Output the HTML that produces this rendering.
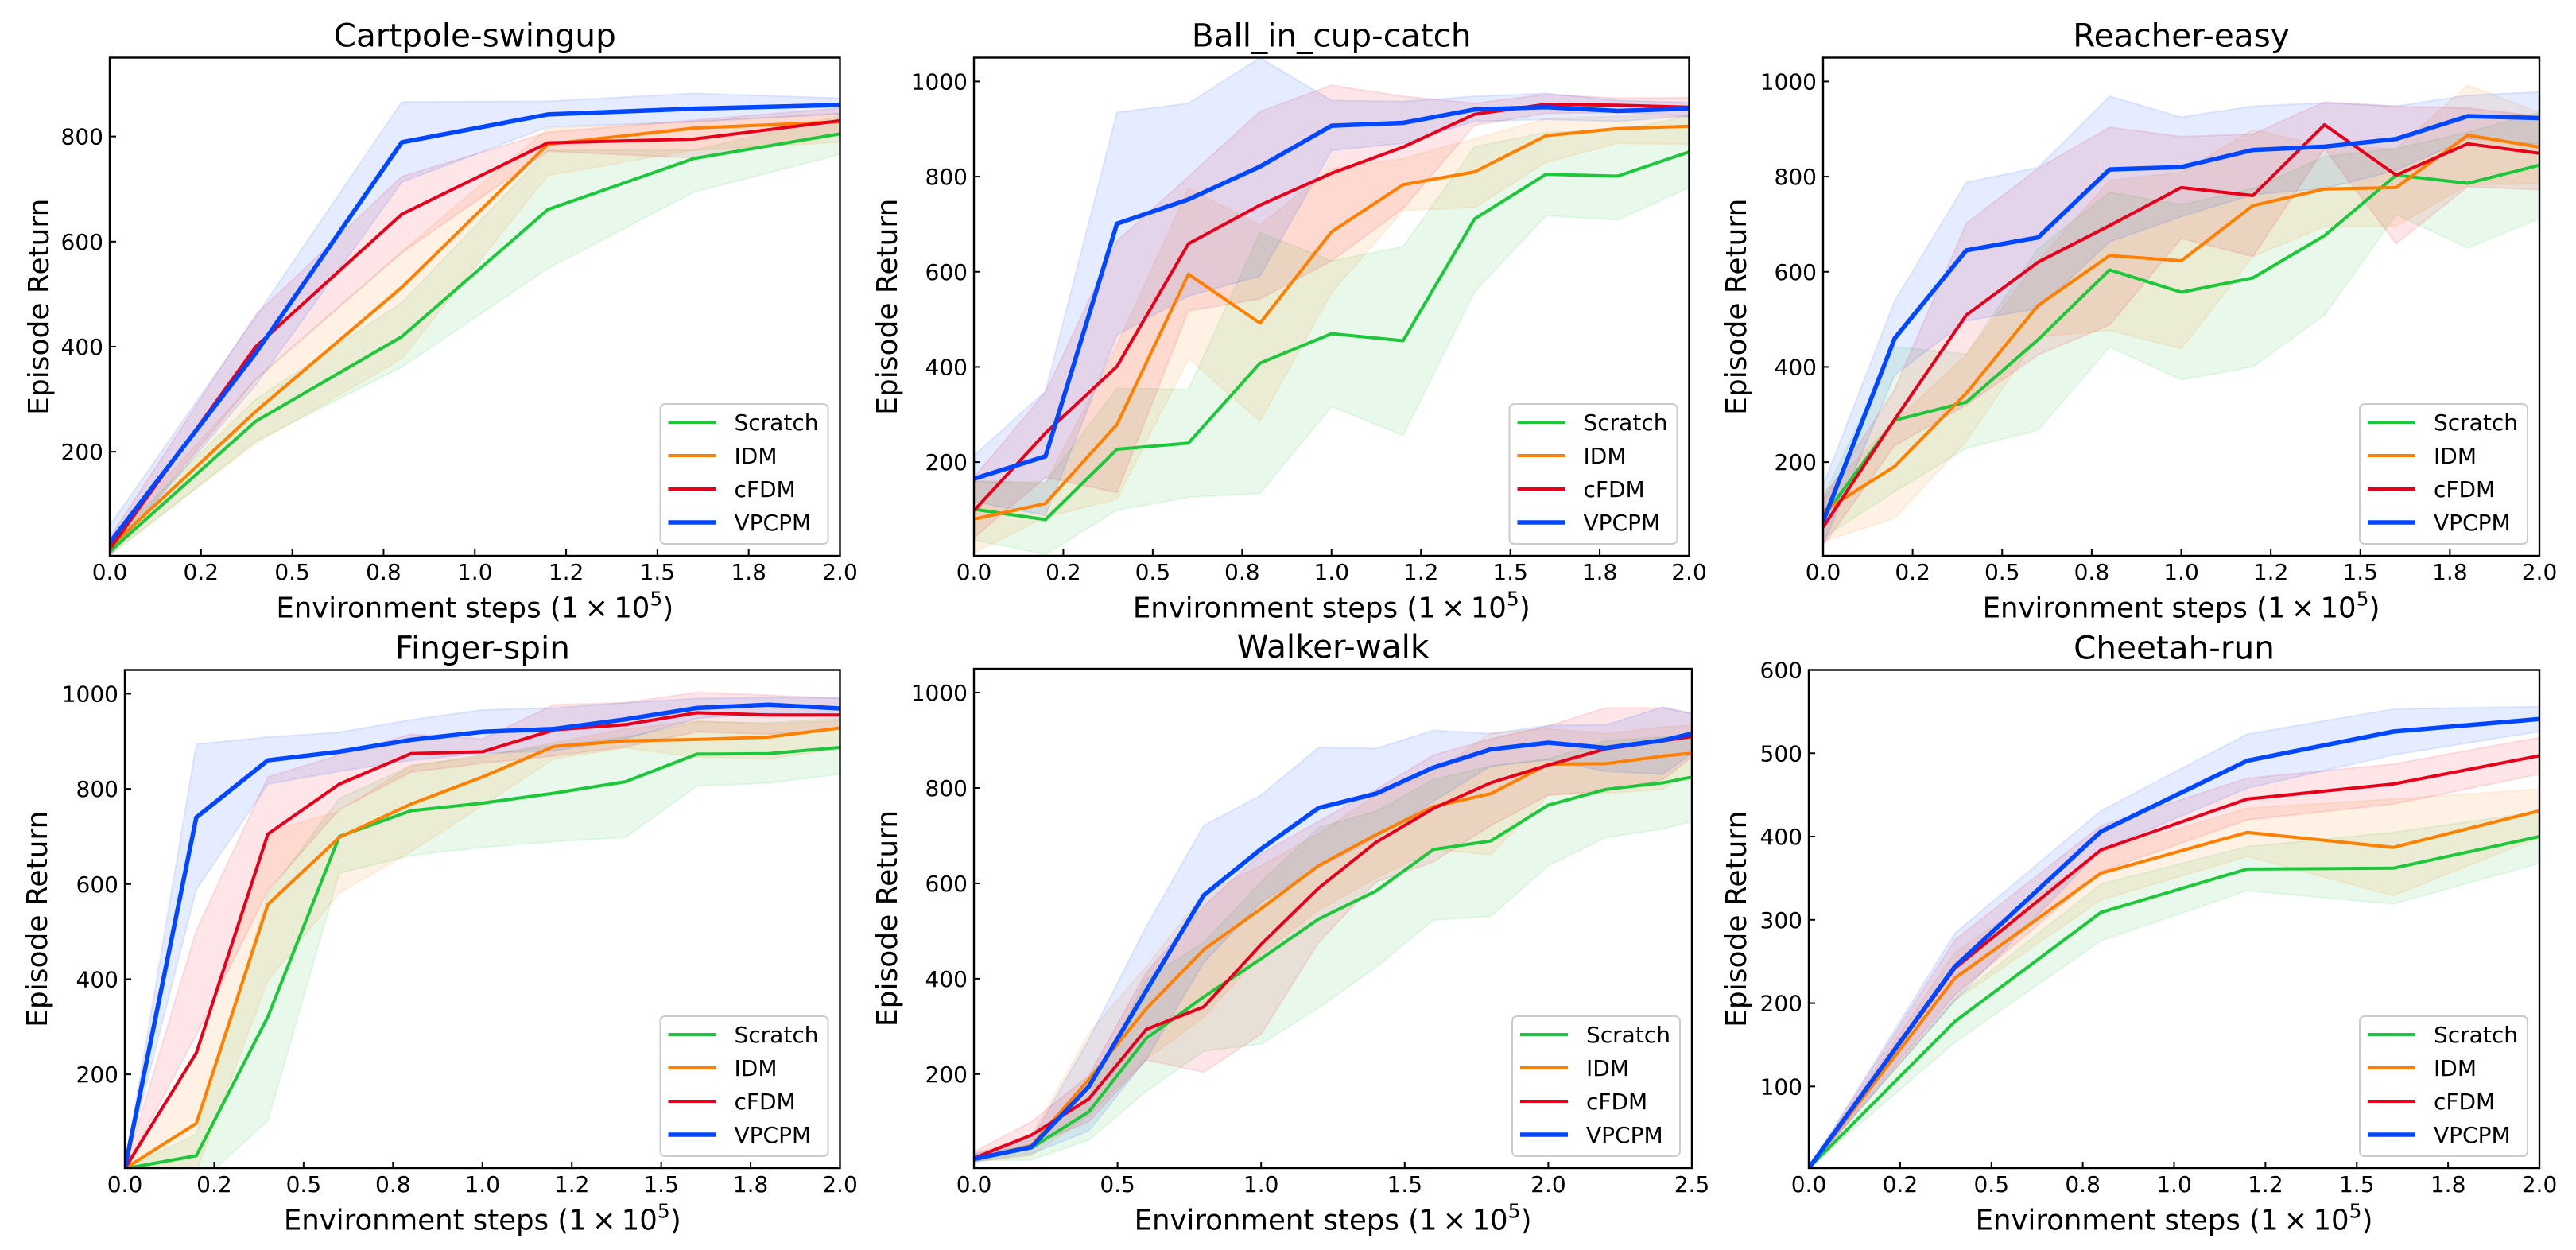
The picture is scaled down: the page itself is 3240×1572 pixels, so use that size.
<!DOCTYPE html>
<html lang="en">
<head>
<meta charset="utf-8">
<title>Episode Return learning curves</title>
<style>
html,body{margin:0;padding:0;background:#fff;}
body{width:3240px;height:1572px;overflow:hidden;}
svg{display:block;font-family:"DejaVu Sans","Liberation Sans",sans-serif;}
</style>
</head>
<body>
<svg id="figure" xmlns="http://www.w3.org/2000/svg" width="3240" height="1572" viewBox="0 0 3240 1572"></svg>
<script>
// ---------- shared axis data ----------
const stepTicks = [0, 0.25, 0.5, 0.75, 1, 1.25, 1.5, 1.75, 2];
const stepTickLabels = ['0.0', '0.2', '0.5', '0.8', '1.0', '1.2', '1.5', '1.8', '2.0'];
const walkerStepTicks = [0, 0.5, 1, 1.5, 2, 2.5];
const walkerStepTickLabels = ['0.0', '0.5', '1.0', '1.5', '2.0', '2.5'];
const returnTicks800 = [200, 400, 600, 800];
const returnTicks1000 = [200, 400, 600, 800, 1000];
const cheetahReturnTicks = [100, 200, 300, 400, 500, 600];
const seriesNames = ['Scratch', 'IDM', 'cFDM', 'VPCPM'];

// ---------- Cartpole-swingup ----------
const cartpoleSteps = [0, 0.4, 0.8, 1.2, 1.6, 2.0];
const cartpoleScratch = [10, 258, 419, 661, 758, 805];
const cartpoleScratchHi = [30, 300, 484, 774, 774, 839];
const cartpoleScratchLo = [2, 220, 361, 549, 694, 766];
const cartpoleIdm = [18, 277, 513, 785, 816, 828];
const cartpoleIdmHi = [33, 338, 581, 816, 828, 844];
const cartpoleIdmLo = [5, 216, 377, 726, 774, 789];
const cartpoleCfdm = [15, 400, 652, 788, 795, 830];
const cartpoleCfdmHi = [37, 461, 724, 808, 831, 854];
const cartpoleCfdmLo = [3, 338, 579, 772, 759, 805];
const cartpoleVpcpm = [27, 388, 789, 842, 853, 860];
const cartpoleVpcpmHi = [60, 457, 866, 867, 882, 873];
const cartpoleVpcpmLo = [2, 327, 713, 818, 828, 843];

// ---------- Ball_in_cup-catch ----------
const ballSteps = [0, 0.2, 0.4, 0.6, 0.8, 1.0, 1.2, 1.4, 1.6, 1.8, 2.0];
const ballScratch = [101, 79, 227, 240, 408, 470, 455, 711, 805, 801, 852];
const ballScratchHi = [160, 157, 355, 353, 682, 623, 653, 863, 893, 897, 927];
const ballScratchLo = [37, 6, 99, 126, 134, 317, 256, 558, 718, 709, 777];
const ballIdm = [80, 113, 279, 595, 492, 684, 783, 810, 886, 901, 906];
const ballIdmHi = [160, 155, 446, 775, 699, 817, 838, 880, 922, 927, 927];
const ballIdmLo = [9, 84, 122, 417, 286, 556, 729, 735, 830, 870, 868];
const ballCfdm = [98, 261, 401, 659, 740, 807, 862, 931, 952, 950, 946];
const ballCfdmHi = [168, 347, 665, 800, 937, 992, 969, 954, 973, 965, 966];
const ballCfdmLo = [41, 168, 136, 518, 543, 623, 733, 908, 933, 935, 927];
const ballVpcpm = [165, 212, 701, 752, 821, 907, 913, 941, 946, 938, 943];
const ballVpcpmHi = [214, 349, 935, 954, 1050, 960, 958, 969, 975, 960, 956];
const ballVpcpmLo = [117, 88, 467, 549, 591, 855, 870, 916, 920, 916, 927];

// ---------- Reacher-easy ----------
const reacherSteps = [0, 0.2, 0.4, 0.6, 0.8, 1.0, 1.2, 1.4, 1.6, 1.8, 2.0];
const reacherScratch = [84, 288, 326, 457, 604, 557, 587, 676, 803, 786, 824];
const reacherScratchHi = [126, 442, 427, 648, 767, 741, 775, 842, 859, 893, 935];
const reacherScratchLo = [41, 138, 229, 267, 442, 373, 400, 509, 720, 650, 712];
const reacherIdm = [96, 191, 345, 529, 634, 623, 739, 774, 777, 887, 862];
const reacherIdmHi = [134, 286, 425, 623, 792, 809, 899, 863, 859, 992, 935];
const reacherIdmLo = [33, 82, 244, 463, 477, 438, 632, 695, 696, 783, 785];
const reacherCfdm = [63, 290, 509, 620, 697, 777, 760, 909, 803, 869, 849];
const reacherCfdmHi = [122, 353, 702, 817, 904, 884, 889, 957, 948, 944, 927];
const reacherCfdmLo = [25, 235, 320, 425, 488, 670, 632, 859, 659, 779, 772];
const reacherVpcpm = [75, 460, 645, 672, 815, 820, 856, 863, 879, 927, 923];
const reacherVpcpmHi = [151, 539, 788, 819, 969, 925, 948, 955, 948, 971, 978];
const reacherVpcpmLo = [25, 383, 497, 522, 663, 716, 762, 775, 813, 880, 868];

// ---------- Finger-spin ----------
const fingerSteps = [0, 0.2, 0.4, 0.6, 0.8, 1.0, 1.2, 1.4, 1.6, 1.8, 2.0];
const fingerScratch = [2, 29, 321, 700, 754, 770, 791, 815, 873, 874, 887];
const fingerScratchHi = [2, 74, 579, 780, 848, 871, 891, 909, 941, 939, 948];
const fingerScratchLo = [2, -35, 103, 623, 660, 677, 689, 698, 806, 812, 831];
const fingerIdm = [2, 97, 557, 698, 768, 825, 889, 901, 904, 909, 928];
const fingerIdmHi = [2, 249, 710, 753, 850, 867, 897, 926, 943, 936, 943];
const fingerIdmLo = [2, -5, 397, 581, 668, 765, 863, 886, 867, 863, 884];
const fingerCfdm = [2, 245, 705, 810, 874, 878, 924, 935, 960, 955, 955];
const fingerCfdmHi = [2, 503, 825, 871, 915, 905, 977, 981, 1003, 997, 990];
const fingerCfdmLo = [2, 283, 586, 757, 835, 854, 869, 888, 920, 915, 926];
const fingerVpcpm = [2, 740, 860, 878, 903, 920, 926, 946, 970, 977, 969];
const fingerVpcpmHi = [2, 894, 909, 919, 945, 966, 970, 981, 990, 992, 992];
const fingerVpcpmLo = [2, 588, 810, 837, 860, 875, 880, 905, 948, 959, 952];

// ---------- Walker-walk ----------
const walkerSteps = [0, 0.2, 0.4, 0.6, 0.8, 1.0, 1.2, 1.4, 1.6, 1.8, 2.0, 2.2, 2.4, 2.5];
const walkerScratch = [22, 45, 121, 275, 362, 442, 525, 584, 671, 689, 764, 797, 811, 823];
const walkerScratchHi = [29, 54, 155, 400, 476, 603, 717, 751, 818, 846, 861, 899, 907, 911];
const walkerScratchLo = [20, 20, 62, 164, 248, 263, 339, 424, 523, 531, 637, 696, 714, 730];
const walkerIdm = [22, 50, 189, 337, 461, 547, 637, 702, 761, 788, 850, 851, 867, 873];
const walkerIdmHi = [33, 71, 286, 426, 578, 637, 704, 785, 831, 916, 924, 914, 928, 931];
const walkerIdmLo = [16, 29, 113, 231, 320, 451, 544, 611, 671, 660, 785, 789, 797, 835];
const walkerCfdm = [24, 72, 148, 294, 341, 472, 590, 686, 757, 811, 848, 882, 899, 908];
const walkerCfdmHi = [37, 100, 197, 413, 552, 662, 730, 797, 869, 903, 930, 968, 968, 956];
const walkerCfdmLo = [16, 50, 100, 230, 204, 284, 476, 603, 645, 721, 785, 793, 818, 865];
const walkerVpcpm = [22, 47, 174, 375, 575, 672, 758, 788, 843, 881, 895, 884, 900, 914];
const walkerVpcpmHi = [33, 62, 273, 510, 721, 785, 885, 883, 921, 914, 931, 932, 970, 956];
const walkerVpcpmLo = [16, 33, 81, 231, 434, 561, 633, 696, 772, 846, 859, 835, 829, 873];

// ---------- Cheetah-run ----------
const cheetahSteps = [0, 0.4, 0.8, 1.2, 1.6, 2.0];
const cheetahScratch = [2, 178, 309, 361, 362, 400];
const cheetahScratchHi = [2, 205, 343, 388, 405, 430];
const cheetahScratchLo = [2, 153, 275, 335, 319, 368];
const cheetahIdm = [2, 230, 356, 405, 387, 431];
const cheetahIdmHi = [2, 261, 382, 434, 445, 457];
const cheetahIdmLo = [2, 203, 324, 376, 329, 399];
const cheetahCfdm = [2, 242, 384, 445, 463, 497];
const cheetahCfdmHi = [2, 276, 413, 470, 487, 519];
const cheetahCfdmLo = [2, 210, 358, 420, 439, 475];
const cheetahVpcpm = [2, 244, 406, 491, 526, 541];
const cheetahVpcpmHi = [2, 284, 431, 523, 553, 556];
const cheetahVpcpmLo = [2, 203, 384, 458, 498, 526];

// ---------- layout and styling ----------
const seriesColors = ['#1cc83a', '#ff7f00', '#e8001a', '#0047ff'];
const seriesWidths = [4, 4, 4, 5.5];
const NS = 'http://www.w3.org/2000/svg';

const panels = [
  { slug: 'cartpole', title: 'Cartpole-swingup', left: 138, right: 1056.5, top: 72.5, bottom: 699, yMin: 2, yMax: 950, xMax: 2, labelGap: 77,
    xTicks: stepTicks, xLabels: stepTickLabels, yTicks: returnTicks800, steps: cartpoleSteps,
    mean: [cartpoleScratch, cartpoleIdm, cartpoleCfdm, cartpoleVpcpm],
    hi: [cartpoleScratchHi, cartpoleIdmHi, cartpoleCfdmHi, cartpoleVpcpmHi],
    lo: [cartpoleScratchLo, cartpoleIdmLo, cartpoleCfdmLo, cartpoleVpcpmLo] },
  { slug: 'ball-in-cup', title: 'Ball_in_cup-catch', left: 1225, right: 2124.5, top: 72.5, bottom: 699, yMin: 3, yMax: 1050, xMax: 2, labelGap: 97,
    xTicks: stepTicks, xLabels: stepTickLabels, yTicks: returnTicks1000, steps: ballSteps,
    mean: [ballScratch, ballIdm, ballCfdm, ballVpcpm],
    hi: [ballScratchHi, ballIdmHi, ballCfdmHi, ballVpcpmHi],
    lo: [ballScratchLo, ballIdmLo, ballCfdmLo, ballVpcpmLo] },
  { slug: 'reacher', title: 'Reacher-easy', left: 2293, right: 3194, top: 72.5, bottom: 699, yMin: 3, yMax: 1050, xMax: 2, labelGap: 97,
    xTicks: stepTicks, xLabels: stepTickLabels, yTicks: returnTicks1000, steps: reacherSteps,
    mean: [reacherScratch, reacherIdm, reacherCfdm, reacherVpcpm],
    hi: [reacherScratchHi, reacherIdmHi, reacherCfdmHi, reacherVpcpmHi],
    lo: [reacherScratchLo, reacherIdmLo, reacherCfdmLo, reacherVpcpmLo] },
  { slug: 'finger', title: 'Finger-spin', left: 157, right: 1056.5, top: 842.5, bottom: 1469, yMin: 3, yMax: 1050, xMax: 2, labelGap: 98,
    xTicks: stepTicks, xLabels: stepTickLabels, yTicks: returnTicks1000, steps: fingerSteps,
    mean: [fingerScratch, fingerIdm, fingerCfdm, fingerVpcpm],
    hi: [fingerScratchHi, fingerIdmHi, fingerCfdmHi, fingerVpcpmHi],
    lo: [fingerScratchLo, fingerIdmLo, fingerCfdmLo, fingerVpcpmLo] },
  { slug: 'walker', title: 'Walker-walk', left: 1225, right: 2128, top: 841, bottom: 1469, yMin: 3, yMax: 1050, xMax: 2.5, labelGap: 97,
    xTicks: walkerStepTicks, xLabels: walkerStepTickLabels, yTicks: returnTicks1000, steps: walkerSteps,
    mean: [walkerScratch, walkerIdm, walkerCfdm, walkerVpcpm],
    hi: [walkerScratchHi, walkerIdmHi, walkerCfdmHi, walkerVpcpmHi],
    lo: [walkerScratchLo, walkerIdmLo, walkerCfdmLo, walkerVpcpmLo] },
  { slug: 'cheetah', title: 'Cheetah-run', left: 2275, right: 3194, top: 842.5, bottom: 1469, yMin: 2, yMax: 600, xMax: 2, labelGap: 79,
    xTicks: stepTicks, xLabels: stepTickLabels, yTicks: cheetahReturnTicks, steps: cheetahSteps,
    mean: [cheetahScratch, cheetahIdm, cheetahCfdm, cheetahVpcpm],
    hi: [cheetahScratchHi, cheetahIdmHi, cheetahCfdmHi, cheetahVpcpmHi],
    lo: [cheetahScratchLo, cheetahIdmLo, cheetahCfdmLo, cheetahVpcpmLo] }
];

const figure = document.getElementById('figure');

function add(parent, tag, props, content) {
  const el = document.createElementNS(NS, tag);
  for (const key in props) el.setAttribute(key, props[key]);
  if (content !== undefined) el.textContent = content;
  parent.appendChild(el);
  return el;
}

panels.forEach(function (p) {
  const xScale = function (v) { return p.left + (v / p.xMax) * (p.right - p.left); };
  const yScale = function (v) { return p.bottom - ((v - p.yMin) / (p.yMax - p.yMin)) * (p.bottom - p.top); };
  const cx = (p.left + p.right) / 2;
  const cy = (p.top + p.bottom) / 2;

  const group = add(figure, 'g', {});
  
  

  const clip = add(group, 'clipPath', { id: 'clip-' + p.slug });
  add(clip, 'rect', { x: p.left, y: p.top, width: p.right - p.left, height: p.bottom - p.top });

  const plot = add(group, 'g', { 'clip-path': 'url(#clip-' + p.slug + ')' });
  
  

  seriesNames.forEach(function (name, s) {
    const color = seriesColors[s];
    const upper = p.steps.map(function (x, i) { return xScale(x).toFixed(1) + ',' + yScale(p.hi[s][i]).toFixed(1); });
    const lower = p.steps.map(function (x, i) { return xScale(x).toFixed(1) + ',' + yScale(p.lo[s][i]).toFixed(1); }).reverse();
    const band = add(plot, 'polygon', { points: upper.concat(lower).join(' '), fill: color, 'fill-opacity': 0.1, stroke: color, 'stroke-opacity': 0.1, 'stroke-width': 2 });
    
    
  });
  seriesNames.forEach(function (name, s) {
    const pts = p.steps.map(function (x, i) { return xScale(x).toFixed(1) + ',' + yScale(p.mean[s][i]).toFixed(1); });
    const line = add(plot, 'polyline', { points: pts.join(' '), fill: 'none', stroke: seriesColors[s], 'stroke-width': seriesWidths[s], 'stroke-linejoin': 'round' });
    
    
  });

  const frame = add(group, 'rect', { x: p.left, y: p.top, width: p.right - p.left, height: p.bottom - p.top, fill: 'none', stroke: '#000', 'stroke-width': 2.4 });
  
  

  p.xTicks.forEach(function (v, i) {
    const x = xScale(v);
    const tick = add(group, 'line', { x1: x, x2: x, y1: p.bottom, y2: p.bottom - 8, stroke: '#000', 'stroke-width': 2 });
    
    
    const label = add(group, 'text', { x: x, y: p.bottom + 30, 'text-anchor': 'middle', 'font-size': 28, fill: '#000' }, p.xLabels[i]);
    
    
  });
  p.yTicks.forEach(function (v) {
    const y = yScale(v);
    const tick = add(group, 'line', { x1: p.left, x2: p.left + 8, y1: y, y2: y, stroke: '#000', 'stroke-width': 2 });
    
    
    const label = add(group, 'text', { x: p.left - 8, y: y + 10, 'text-anchor': 'end', 'font-size': 28, fill: '#000' }, String(v));
    
    
  });

  const title = add(group, 'text', { x: cx, y: p.top - 14, 'text-anchor': 'middle', 'font-size': 40.5, fill: '#000' }, p.title);
  
  

  const yTitle = add(group, 'text', { x: 0, y: 0, transform: 'translate(' + (p.left - p.labelGap) + ',' + cy + ') rotate(-90)', 'text-anchor': 'middle', 'font-size': 36, fill: '#000' }, 'Episode Return');
  
  

  const xTitle = add(group, 'text', { x: cx, y: p.bottom + 77.5, 'text-anchor': 'middle', 'font-size': 35.5, fill: '#000' });
  
  
  add(xTitle, 'tspan', {}, 'Environment steps (1\u2009×\u200910');
  add(xTitle, 'tspan', { dy: -15, 'font-size': 25 }, '5');
  add(xTitle, 'tspan', { dy: 15 }, ')');

  // Legend
  const legendW = 211, legendH = 176;
  const lx = p.right - 15 - legendW;
  const ly = p.bottom - 15 - legendH;
  const legend = add(group, 'g', {});
  
  
  add(legend, 'rect', { x: lx, y: ly, width: legendW, height: legendH, rx: 6, ry: 6, fill: '#fff', 'fill-opacity': 0.8, stroke: '#cccccc', 'stroke-width': 2 });
  seriesNames.forEach(function (name, s) {
    const ey = ly + 23 + s * 42;
    const entry = add(legend, 'g', {});
    
    
    add(entry, 'line', { x1: lx + 10, x2: lx + 70, y1: ey, y2: ey, stroke: seriesColors[s], 'stroke-width': seriesWidths[s] });
    add(entry, 'text', { x: lx + 93, y: ey + 10, 'font-size': 28, fill: '#000' }, name);
  });
});
</script>
</body>
</html>
